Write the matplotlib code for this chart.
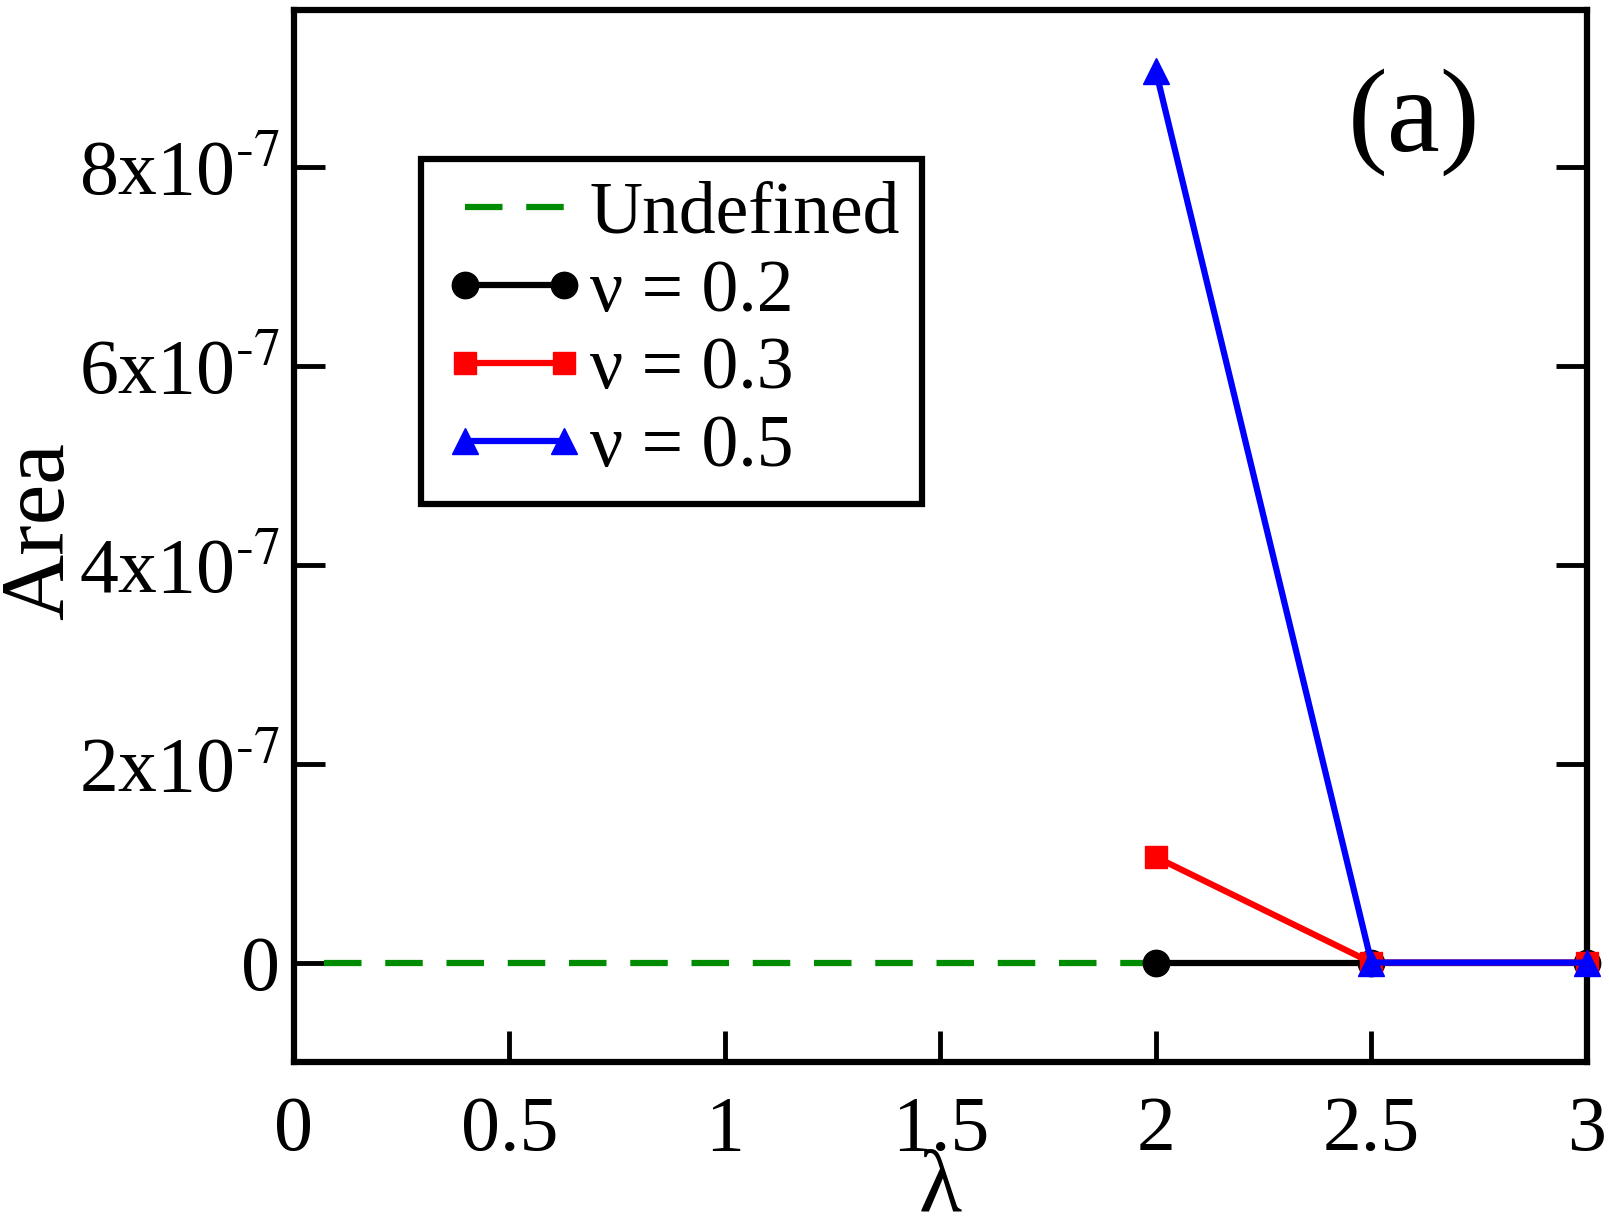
"""Area vs lambda, panel (a)."""

import matplotlib

matplotlib.use("Agg")
import matplotlib.pyplot as plt

plt.rcParams["font.family"] = ["Liberation Serif", "DejaVu Serif"]
plt.rcParams["mathtext.fontset"] = "stix"

# data
undef_x = [0.07, 2.0]
undef_y = [0.0, 0.0]
lam = [2.0, 2.5, 3.0]
area_02 = [0.0, 0.0, 0.0]
area_03 = [1.06e-7, 0.0, 0.0]
area_05 = [8.96e-7, 0.0, 0.0]

x_ticks = [0, 0.5, 1, 1.5, 2, 2.5, 3]
x_labels = ["0", "0.5", "1", "1.5", "2", "2.5", "3"]
y_ticks = [0, 2e-7, 4e-7, 6e-7, 8e-7]
y_labels = ["0", "2x10$^{\\text{-}7}$", "4x10$^{\\text{-}7}$",
            "6x10$^{\\text{-}7}$", "8x10$^{\\text{-}7}$"]

fig = plt.figure(figsize=(16.09, 12.23), dpi=100)
ax = fig.add_axes([0.1827, 0.1316, 0.8036, 0.8604])

lw = 4.5
ax.plot(undef_x, undef_y, color="#008c00", linewidth=lw, dashes=(6, 3.8),
        label="Undefined", zorder=2)
ax.plot(lam, area_02, color="black", linewidth=lw, marker="o", markersize=19,
        label="ν = 0.2", clip_on=False, zorder=3)
ax.plot(lam, area_03, color="#ff0000", linewidth=lw, marker="s", markersize=16,
        label="ν = 0.3", clip_on=False, zorder=4)
ax.plot(lam, area_05, color="#0000ff", linewidth=lw, marker="^", markersize=19,
        label="ν = 0.5", clip_on=False, zorder=5)

ax.set_xlim(0, 3)
ax.set_ylim(-1e-7, 9.58e-7)
ax.set_xticks(x_ticks)
ax.set_xticklabels(x_labels)
ax.set_yticks(y_ticks)
ax.set_yticklabels(y_labels)

for side in ax.spines.values():
    side.set_linewidth(4.5)
ax.tick_params(axis="both", direction="in", length=22, width=3.5, labelsize=56)
ax.tick_params(axis="y", right=True, pad=10)
ax.tick_params(axis="x", pad=24)

ax.set_xlabel("λ", fontsize=64, va="center")
ax.xaxis.set_label_coords(0.5, -0.122)
ax.set_ylabel("Area", fontsize=66, va="center", ha="center")
ax.yaxis.set_label_coords(-0.196, 0.505)

ax.text(0.866, 0.893, "(a)", transform=ax.transAxes, fontsize=86,
        ha="center", va="center")

leg = ax.legend(loc="upper left", bbox_to_anchor=(0.098, 0.858), fontsize=53,
                numpoints=2, handlelength=1.95, handletextpad=0.05,
                labelspacing=0.14, borderpad=0.3, borderaxespad=0,
                fancybox=False, framealpha=1, edgecolor="black")
leg.get_frame().set_linewidth(4.5)

fig.savefig("out.png", dpi=100, facecolor="white")
